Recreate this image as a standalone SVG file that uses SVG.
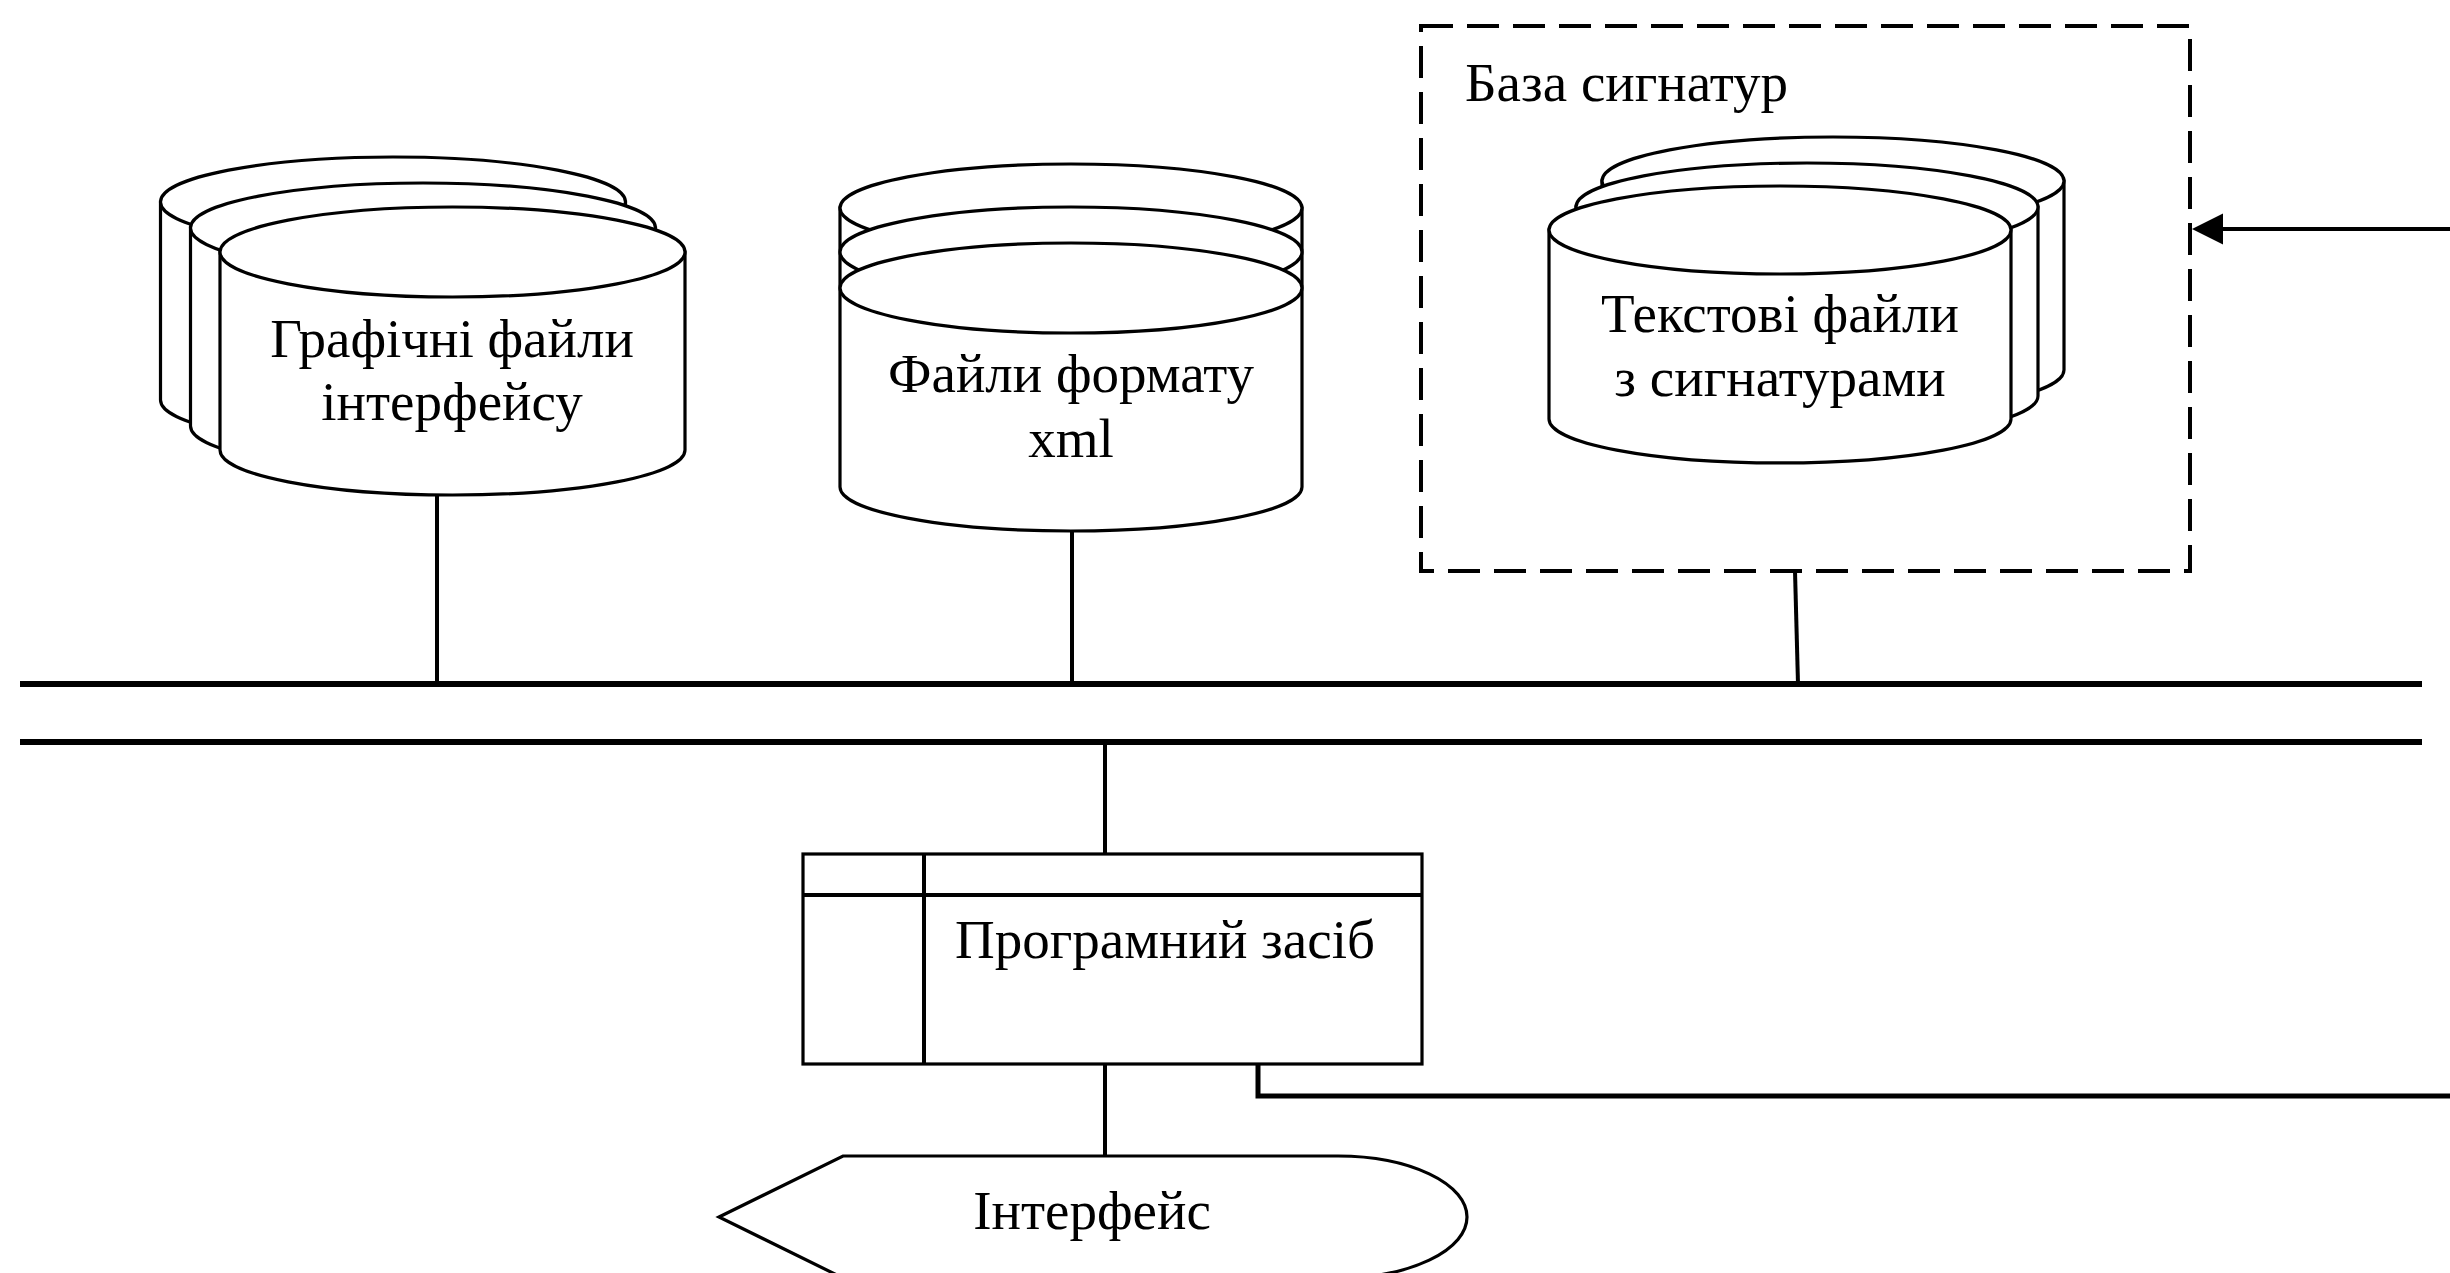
<svg xmlns="http://www.w3.org/2000/svg" width="2450" height="1273" viewBox="0 0 2450 1273">
<style>
.s{fill:#fff;stroke:#000;stroke-width:3.2}
.t{font-family:"Liberation Serif","Times New Roman",serif;font-size:55px;fill:#000}
.m{text-anchor:middle}
.c{fill:none;stroke:#000;stroke-width:4}
.bus{fill:none;stroke:#000;stroke-width:6}
</style>
<rect width="2450" height="1273" fill="#fff"/>

<g id="connectors">
<line class="bus" x1="20" y1="684" x2="2422" y2="684"/>
<line class="bus" x1="20" y1="742" x2="2422" y2="742"/>
<line class="c" x1="437" y1="494" x2="437" y2="684"/>
<line class="c" x1="1072" y1="531" x2="1072" y2="684"/>
<line class="c" x1="1795" y1="571" x2="1798" y2="684"/>
<line class="c" x1="1105" y1="742" x2="1105" y2="854"/>
<line class="c" x1="1105" y1="1064" x2="1105" y2="1156"/>
<polyline fill="none" stroke="#000" stroke-width="5" points="1258,1064 1258,1096 2450,1096"/>
<line stroke="#000" stroke-width="4" x1="2450" y1="229" x2="2220" y2="229"/>
<path d="M2192,229 L2223,213.5 L2223,244.5 Z" fill="#000"/>
</g>

<g id="graphic-files">
<path class="s" d="M160.5,202 L160.5,400 A232.5,45 0 0 0 625.5,400 L625.5,202 Z"/>
<ellipse class="s" cx="393" cy="202" rx="232.5" ry="45"/>
<path class="s" d="M190.5,228 L190.5,426 A232.5,45 0 0 0 655.5,426 L655.5,228 Z"/>
<ellipse class="s" cx="423" cy="228" rx="232.5" ry="45"/>
<path class="s" d="M220,252 L220,450 A232.5,45 0 0 0 685,450 L685,252 Z"/>
<ellipse class="s" cx="452.5" cy="252" rx="232.5" ry="45"/>
<text class="t m" x="452" y="357">Графічні файли</text>
<text class="t m" x="452" y="420">інтерфейсу</text>
</g>

<g id="xml-files">
<path class="s" d="M840,208 L840,487 A231,44 0 0 0 1302,487 L1302,208 Z"/>
<ellipse class="s" cx="1071" cy="208" rx="231" ry="44"/>
<ellipse class="s" cx="1071" cy="252" rx="231" ry="45"/>
<ellipse class="s" cx="1071" cy="288" rx="231" ry="45"/>
<text class="t m" x="1071" y="392">Файли формату</text>
<text class="t m" x="1071" y="457">xml</text>
</g>

<g id="signature-db">
<rect x="1421" y="26" width="769" height="545" fill="none" stroke="#000" stroke-width="4" stroke-dasharray="32 14"/>
<text class="t" x="1465" y="101">База сигнатур</text>
</g>

<g id="text-files">
<path class="s" d="M1602,181 L1602,370 A231,44 0 0 0 2064,370 L2064,181 Z"/>
<ellipse class="s" cx="1833" cy="181" rx="231" ry="44"/>
<path class="s" d="M1576,207 L1576,396 A231,44 0 0 0 2038,396 L2038,207 Z"/>
<ellipse class="s" cx="1807" cy="207" rx="231" ry="44"/>
<path class="s" d="M1549,230 L1549,419 A231,44 0 0 0 2011,419 L2011,230 Z"/>
<ellipse class="s" cx="1780" cy="230" rx="231" ry="44"/>
<text class="t m" x="1780" y="332">Текстові файли</text>
<text class="t m" x="1780" y="396">з сигнатурами</text>
</g>

<g id="program">
<rect class="s" x="803" y="854" width="619" height="210"/>
<line class="c" x1="803" y1="895" x2="1422" y2="895" stroke-width="3.2"/>
<line class="c" x1="924" y1="854" x2="924" y2="1064" stroke-width="3.2"/>
<text class="t m" x="1165" y="958">Програмний засіб</text>
</g>

<g id="interface">
<path class="s" d="M719,1217 L843,1156 L1338,1156 A129,61 0 0 1 1467,1217 A129,61 0 0 1 1338,1278 L843,1278 Z"/>
<text class="t m" x="1092" y="1229">Інтерфейс</text>
</g>
</svg>
